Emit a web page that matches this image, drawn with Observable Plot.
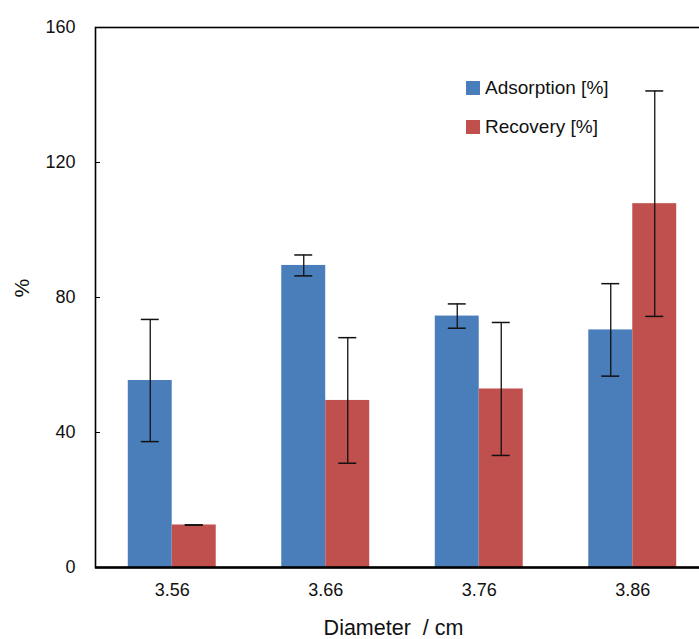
<!DOCTYPE html>
<html>
<head>
<meta charset="utf-8">
<script src="https://cdn.jsdelivr.net/npm/d3@7"></script>
<script src="https://cdn.jsdelivr.net/npm/@observablehq/plot@0.6"></script>
<style>
  html, body { margin: 0; padding: 0; background: #fff; }
  #wrap { position: relative; width: 699px; height: 639px; overflow: hidden; font-family: "Liberation Sans", Arial, sans-serif; }
  #legend { position: absolute; left: 466px; top: 78px; font-size: 19px; color: #111; }
  .item { display: flex; align-items: center; height: 20px; margin-bottom: 19px; }
  .sw { width: 14px; height: 14px; margin-right: 5px; }
</style>
</head>
<body>
<div id="wrap"></div>
<script>
const diameters = ["3.56", "3.66", "3.76", "3.86"];
const adsorption = [55.4, 89.5, 74.5, 70.4];
const adsorptionErr = [18.1, 3.1, 3.6, 13.7];
const recovery = [12.6, 49.5, 52.9, 107.8];
const recoveryErr = [0, 18.6, 19.7, 33.4];
const yTicks = [0, 40, 80, 120, 160];
const seriesNames = ["Adsorption [%]", "Recovery [%]"];
const seriesColors = ["#4a7ebb", "#c0504d"];

const adsRows = diameters.map((d, i) => ({d, v: adsorption[i], lo: adsorption[i] - adsorptionErr[i], hi: adsorption[i] + adsorptionErr[i]}));
const recRows = diameters.map((d, i) => ({d, v: recovery[i], lo: recovery[i] - recoveryErr[i], hi: recovery[i] + recoveryErr[i]}));

const chart = Plot.plot({
  width: 699,
  height: 639,
  marginTop: 27,
  marginBottom: 72,
  marginLeft: 95,
  marginRight: -10,
  style: {fontFamily: "'Liberation Sans', Arial, sans-serif", fontSize: "18px", color: "#111", background: "transparent"},
  x: {domain: diameters, paddingInner: 0.427, paddingOuter: 0.2135, round: false, label: null},
  y: {domain: [0, 160], label: null},
  marks: [
    Plot.barY(adsRows, {x: "d", y: "v", fill: seriesColors[0], insetRight: 44}),
    Plot.barY(recRows, {x: "d", y: "v", fill: seriesColors[1], insetLeft: 44}),
    Plot.ruleX(adsRows, {x: "d", y1: "lo", y2: "hi", dx: -22, stroke: "#111", strokeWidth: 1.3}),
    Plot.tickY(adsRows, {x: "d", y: "hi", insetLeft: 13, insetRight: 57, stroke: "#111", strokeWidth: 1.5}),
    Plot.tickY(adsRows, {x: "d", y: "lo", insetLeft: 13, insetRight: 57, stroke: "#111", strokeWidth: 1.5}),
    Plot.ruleX(recRows, {x: "d", y1: "lo", y2: "hi", dx: 22, stroke: "#111", strokeWidth: 1.3}),
    Plot.tickY(recRows, {x: "d", y: "hi", insetLeft: 57, insetRight: 13, stroke: "#111", strokeWidth: 1.5}),
    Plot.tickY(recRows, {x: "d", y: "lo", insetLeft: 57, insetRight: 13, stroke: "#111", strokeWidth: 1.5}),
    Plot.frame({stroke: "#000", strokeWidth: 1.6}),
    Plot.ruleY([0], {stroke: "#000", strokeWidth: 2.6}),
    Plot.axisY({ticks: yTicks, tickSize: -5, tickPadding: 25, tickFormat: d => String(d), fontSize: 18, stroke: "#000"}),
    Plot.axisX({tickSize: 0, tickPadding: 16, fontSize: 18}),
    Plot.text(["Diameter  / cm"], {frameAnchor: "bottom", dx: -9, dy: 67, fontSize: 21.5, fill: "#111"}),
    Plot.text(["%"], {frameAnchor: "left", dx: -73, dy: 0, rotate: -90, fontSize: 21, fill: "#111"})
  ]
});

const wrap = document.getElementById("wrap");
wrap.appendChild(chart);
const legend = document.createElement("div");
legend.id = "legend";
seriesNames.forEach((name, i) => {
  const item = document.createElement("div");
  item.className = "item";
  const sw = document.createElement("div");
  sw.className = "sw";
  sw.style.background = seriesColors[i];
  const label = document.createElement("span");
  label.textContent = name;
  item.appendChild(sw);
  item.appendChild(label);
  legend.appendChild(item);
});
wrap.appendChild(legend);
</script>
</body>
</html>
